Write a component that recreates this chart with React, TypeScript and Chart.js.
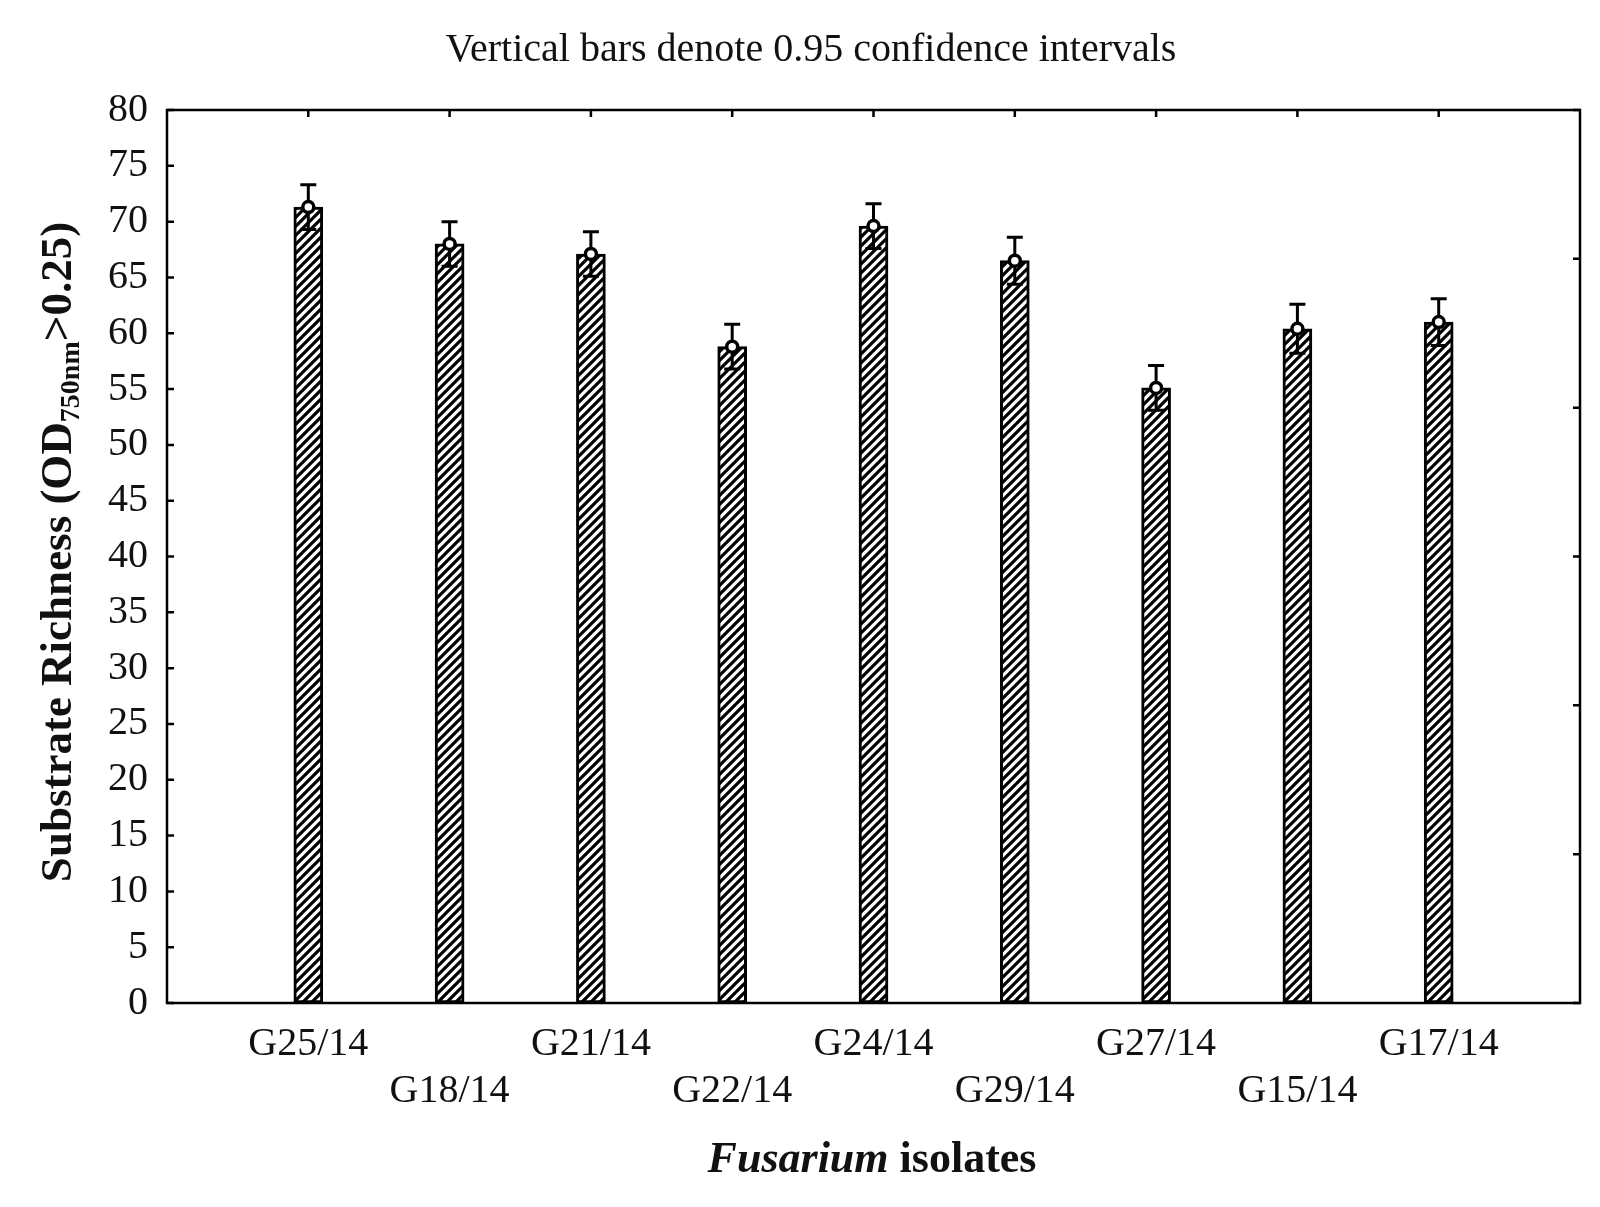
import React, { useEffect, useRef } from 'react';
import { Chart, registerables } from 'chart.js';

Chart.register(...registerables);

// isolates in the order they are plotted
const isolates = ['G25/14', 'G18/14', 'G21/14', 'G22/14', 'G24/14', 'G29/14', 'G27/14', 'G15/14', 'G17/14'];
// mean substrate richness per isolate
const richness = [71.3, 68.0, 67.1, 58.8, 69.6, 66.5, 55.1, 60.4, 61.0];
// half width of the 0.95 confidence interval
const ciHalf = [2.0, 2.0, 2.0, 2.0, 2.0, 2.1, 2.0, 2.2, 2.1];

const yMin = 0;
const yMax = 80;
const yStep = 5;
const rightDivisions = 6;

const titleText = 'Vertical bars denote 0.95 confidence intervals';
const SERIF = '"Liberation Serif", "Times New Roman", serif';

function makeHatch(): CanvasPattern | string {
  const s = 9;
  const c = document.createElement('canvas');
  c.width = s;
  c.height = s;
  const g = c.getContext('2d');
  if (!g) return '#888';
  g.fillStyle = '#fff';
  g.fillRect(0, 0, s, s);
  g.strokeStyle = '#000';
  g.lineWidth = 3.2;
  g.beginPath();
  g.moveTo(-2, s + 2); g.lineTo(s + 2, -2);
  g.moveTo(-2, 2); g.lineTo(2, -2);
  g.moveTo(s - 2, s + 2); g.lineTo(s + 2, s - 2);
  g.stroke();
  const p = g.createPattern(c, 'repeat');
  return p || '#888';
}

const decorPlugin = {
  id: 'decor',
  afterDatasetsDraw(chart: any) {
    const { ctx, chartArea, scales } = chart;
    const xs = scales.x;
    const ys = scales.y;
    ctx.save();

    // error bars and mean markers
    ctx.strokeStyle = '#000';
    richness.forEach((m, i) => {
      const x = xs.getPixelForValue(i + 1);
      const yt = ys.getPixelForValue(m + ciHalf[i]);
      const yb = ys.getPixelForValue(m - ciHalf[i]);
      const ym = ys.getPixelForValue(m);
      ctx.lineWidth = 3;
      ctx.beginPath();
      ctx.moveTo(x, yt); ctx.lineTo(x, yb);
      ctx.moveTo(x - 8, yt); ctx.lineTo(x + 8, yt);
      ctx.moveTo(x - 8, yb); ctx.lineTo(x + 8, yb);
      ctx.stroke();
      ctx.lineWidth = 3.5;
      ctx.beginPath();
      ctx.arc(x, ym, 5.5, 0, Math.PI * 2);
      ctx.fillStyle = '#fff';
      ctx.fill();
      ctx.stroke();
    });

    // frame
    ctx.lineWidth = 2.5;
    ctx.strokeRect(chartArea.left, chartArea.top, chartArea.right - chartArea.left, chartArea.bottom - chartArea.top);

    // inward ticks
    ctx.beginPath();
    for (let v = yMin; v <= yMax; v += yStep) {
      const y = ys.getPixelForValue(v);
      ctx.moveTo(chartArea.left, y); ctx.lineTo(chartArea.left + 7, y);
    }
    for (let k = 0; k <= rightDivisions; k++) {
      const y = ys.getPixelForValue(yMin + (k * (yMax - yMin)) / rightDivisions);
      ctx.moveTo(chartArea.right, y); ctx.lineTo(chartArea.right - 7, y);
    }
    isolates.forEach((_, i) => {
      const x = xs.getPixelForValue(i + 1);
      ctx.moveTo(x, chartArea.top); ctx.lineTo(x, chartArea.top + 7);
    });
    ctx.stroke();

    // title
    ctx.fillStyle = '#111';
    ctx.textBaseline = 'middle';
    ctx.textAlign = 'center';
    ctx.font = `40px ${SERIF}`;
    ctx.fillText(titleText, 811, 50);

    // x axis title: Fusarium (bold italic) isolates (bold)
    const a = 'Fusarium';
    const b = ' isolates';
    ctx.textAlign = 'left';
    ctx.font = `italic bold 44px ${SERIF}`;
    const wa = ctx.measureText(a).width;
    ctx.font = `bold 44px ${SERIF}`;
    const wb = ctx.measureText(b).width;
    const x0 = 872 - (wa + wb) / 2;
    ctx.font = `italic bold 44px ${SERIF}`;
    ctx.fillText(a, x0, 1161);
    ctx.font = `bold 44px ${SERIF}`;
    ctx.fillText(b, x0 + wa, 1161);

    // y axis title with subscript
    const p1 = 'Substrate Richness (OD';
    const sub = '750nm';
    const p2 = '>0.25)';
    ctx.save();
    ctx.translate(71, 552);
    ctx.rotate(-Math.PI / 2);
    ctx.textBaseline = 'alphabetic';
    ctx.font = `bold 45px ${SERIF}`;
    const w1 = ctx.measureText(p1).width;
    const w3 = ctx.measureText(p2).width;
    ctx.font = `bold 28px ${SERIF}`;
    const w2 = ctx.measureText(sub).width;
    let tx = -(w1 + w2 + w3) / 2;
    ctx.font = `bold 45px ${SERIF}`;
    ctx.fillText(p1, tx, 0);
    tx += w1;
    ctx.font = `bold 28px ${SERIF}`;
    ctx.fillText(sub, tx, 8);
    tx += w2;
    ctx.font = `bold 45px ${SERIF}`;
    ctx.fillText(p2, tx, 0);
    ctx.restore();

    ctx.restore();
  },
};

const App: React.FC = () => {
  const canvasRef = useRef<HTMLCanvasElement>(null);
  const chartRef = useRef<Chart | null>(null);

  useEffect(() => {
    if (!canvasRef.current) return;
    if (chartRef.current) chartRef.current.destroy();
    const ctx = canvasRef.current.getContext('2d');
    if (!ctx) return;
    const hatch = makeHatch();

    chartRef.current = new Chart(ctx, {
      type: 'bar',
      data: {
        datasets: [
          {
            label: 'Substrate richness',
            data: richness.map((v, i) => ({ x: i + 1, y: v })),
            backgroundColor: hatch as any,
            borderColor: '#000',
            borderWidth: 3,
            borderSkipped: false,
            barThickness: 29,
          },
        ],
      },
      options: {
        animation: false,
        responsive: true,
        maintainAspectRatio: false,
        layout: { padding: { left: 0, top: 110, right: 20, bottom: 0 } },
        scales: {
          x: {
            type: 'linear',
            min: 0,
            max: isolates.length + 1,
            offset: false,
            grid: { display: false, drawTicks: false },
            border: { display: false },
            afterFit: (scale: any) => { scale.height = 204; },
            ticks: {
              stepSize: 1,
              autoSkip: false,
              maxRotation: 0,
              padding: 18,
              color: '#111',
              font: { family: SERIF, size: 40, lineHeight: 1.18 },
              callback: (value: any) => {
                const i = Number(value) - 1;
                if (i < 0 || i >= isolates.length) return '';
                return i % 2 === 0 ? [isolates[i]] : ['', isolates[i]];
              },
            },
          },
          y: {
            min: yMin,
            max: yMax,
            grid: { display: false, drawTicks: false },
            border: { display: false },
            afterFit: (scale: any) => { scale.width = 167; },
            ticks: {
              stepSize: yStep,
              padding: 19,
              color: '#111',
              font: { family: SERIF, size: 40 },
            },
          },
        },
        plugins: {
          legend: { display: false },
          tooltip: { enabled: false },
        },
      } as any,
      plugins: [decorPlugin],
    });

    return () => {
      if (chartRef.current) {
        chartRef.current.destroy();
        chartRef.current = null;
      }
    };
  }, []);

  return (
    <div style={{ position: 'fixed', left: 0, top: 0, width: 1600, height: 1207, background: '#fff' }}>
      <canvas ref={canvasRef}></canvas>
    </div>
  );
};

export default App;
